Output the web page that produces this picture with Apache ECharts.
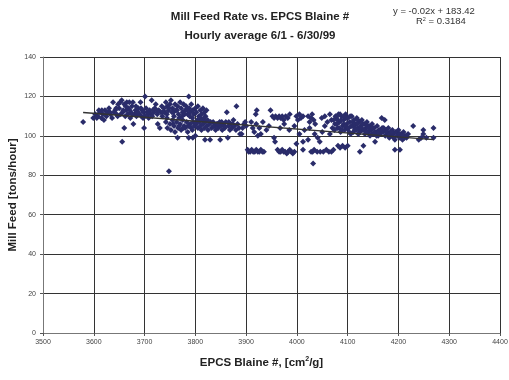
<!DOCTYPE html>
<html><head><meta charset="utf-8">
<script src="https://cdn.jsdelivr.net/npm/echarts@6/dist/echarts.min.js"></script>
<style>html,body{margin:0;padding:0;background:#fff}#c{width:509px;height:380px}</style>
</head><body><div id="c"></div>
<script>
const obs3500s = [[3579,107],[3599,109],[3603,111],[3606,109],[3608,110],[3610,113],[3612,112],[3615,109],[3618,111],[3620,108],[3622,113],[3625,110],[3628,112],[3630,114],[3633,111],[3636,109],[3638,117],[3640,112],[3642,113],[3645,111],[3647,110],[3648,116],[3650,114],[3652,117],[3655,118],[3656,97],[3657,112],[3660,104],[3660,116],[3662,110],[3664,113],[3665,117],[3667,111],[3668,114],[3670,117],[3672,109],[3673,112],[3675,115],[3677,117],[3678,106],[3680,111],[3682,113],[3684,110],[3685,112],[3688,114],[3690,111],[3692,117],[3694,110],[3695,113],[3698,112],[3699,104],[3616,113],[3624,111],[3632,112],[3644,114],[3653,111],[3658,113],[3663,115],[3671,113],[3676,111],[3683,115],[3687,112],[3693,114],[3697,109]];
const obs3700s = [[3700,110],[3701,120],[3703,114],[3705,112],[3708,109],[3710,113],[3712,111],[3714,118],[3715,110],[3718,112],[3720,114],[3722,116],[3725,111],[3726,106],[3728,113],[3730,104],[3732,112],[3734,115],[3735,110],[3738,114],[3740,112],[3742,117],[3745,115],[3747,113],[3750,116],[3752,118],[3755,114],[3757,112],[3760,116],[3762,113],[3765,115],[3767,111],[3770,117],[3772,114],[3775,112],[3777,116],[3780,113],[3782,115],[3785,111],[3787,120],[3788,114],[3790,112],[3792,116],[3795,113],[3797,111],[3742,107],[3745,104],[3748,82],[3750,106],[3752,103],[3755,108],[3758,105],[3760,102],[3763,107],[3765,99],[3766,104],[3770,106],[3772,103],[3775,108],[3778,105],[3780,104],[3783,107],[3785,102],[3787,99],[3790,106],[3792,104],[3795,99],[3796,107],[3798,105],[3706,111],[3716,113],[3724,113],[3736,112],[3744,111],[3748,114],[3754,112],[3758,110],[3764,113],[3768,109],[3774,110],[3779,111],[3784,113],[3789,110],[3794,109],[3744,109],[3756,106],[3768,105],[3776,104],[3786,105],[3794,103]];
const obs3800s = [[3800,114],[3802,112],[3805,115],[3807,110],[3810,113],[3812,111],[3815,114],[3818,112],[3820,110],[3822,113],[3800,100],[3802,106],[3805,104],[3808,107],[3810,105],[3812,103],[3815,106],[3818,104],[3819,98],[3820,107],[3823,105],[3825,103],[3828,106],[3829,98],[3832,104],[3835,107],[3838,105],[3840,103],[3842,106],[3845,104],[3848,107],[3849,98],[3850,105],[3853,103],[3855,106],[3858,104],[3860,107],[3862,112],[3864,99],[3865,105],[3868,103],[3870,106],[3872,104],[3875,108],[3877,105],[3880,103],[3881,115],[3883,106],[3886,104],[3888,101],[3891,101],[3893,104],[3896,106],[3898,107],[3804,108],[3809,109],[3814,108],[3817,109],[3824,108],[3830,107],[3836,105],[3844,106],[3852,107],[3857,105],[3866,107],[3874,106]];
const obs3900s = [[3903,93],[3905,92],[3908,92],[3911,93],[3914,92],[3917,92],[3920,93],[3923,92],[3926,92],[3929,93],[3932,92],[3935,92],[3962,93],[3965,92],[3968,92],[3971,93],[3974,92],[3977,92],[3980,91],[3983,92],[3986,93],[3989,92],[3992,91],[3995,92],[3919,111],[3921,113],[3948,113],[3952,110],[3955,109],[3958,110],[3962,109],[3965,110],[3968,109],[3971,110],[3974,108],[3978,110],[3982,109],[3986,111],[3900,105],[3910,107],[3913,104],[3916,102],[3920,106],[3923,100],[3926,104],[3929,101],[3933,107],[3940,103],[3945,105],[3955,99],[3957,97],[3967,104],[3975,106],[3985,103],[3995,105],[3999,96],[3999,110]];
const obs4000s = [[4002,108],[4005,111],[4008,109],[4012,110],[4022,110],[4025,107],[4028,109],[4030,111],[4033,108],[4036,106],[4049,109],[4055,110],[4060,107],[4065,111],[4068,108],[4012,93],[4028,92],[4031,92],[4032,86],[4034,93],[4040,92],[4046,92],[4052,92],[4058,93],[4063,92],[4068,92],[4072,93],[4005,101],[4012,97],[4015,103],[4022,98],[4025,104],[4035,101],[4041,99],[4045,97],[4050,102],[4055,105],[4065,101],[4070,104],[4075,106],[4078,109],[4080,104],[4082,111],[4084,107],[4086,102],[4088,110],[4090,105],[4092,108],[4094,103],[4096,111],[4098,106],[4081,95],[4085,94],[4090,95],[4095,94],[4076,110],[4080,108],[4085,111],[4092,106],[4097,109],[4072,108],[4074,103],[4079,106],[4083,104],[4087,108],[4089,103],[4093,110],[4095,105],[4099,104]];
const obs4100s = [[4100,109],[4102,104],[4104,107],[4106,101],[4108,110],[4110,105],[4112,108],[4114,103],[4116,106],[4118,109],[4120,104],[4122,107],[4124,102],[4126,105],[4128,108],[4130,103],[4132,106],[4134,101],[4136,104],[4138,107],[4140,102],[4142,105],[4144,100],[4146,103],[4148,106],[4150,101],[4152,104],[4154,97],[4156,102],[4158,105],[4160,100],[4162,103],[4164,101],[4167,109],[4168,104],[4170,102],[4173,108],[4174,100],[4176,103],[4178,101],[4180,104],[4182,99],[4184,102],[4186,100],[4188,103],[4190,101],[4193,98],[4195,102],[4198,100],[4100,95],[4124,92],[4131,95],[4193,93],[4105,110],[4110,107],[4115,104],[4120,108],[4125,103],[4135,106],[4145,104],[4103,102],[4107,105],[4111,102],[4113,106],[4117,103],[4119,106],[4121,101],[4127,104],[4129,106],[4133,103],[4137,102],[4139,105],[4141,104],[4147,101],[4149,104],[4153,102],[4157,100],[4161,102],[4165,103],[4171,104],[4177,102],[4183,101],[4187,102],[4191,99]];
const obs4200s = [[4200,103],[4203,99],[4205,101],[4208,98],[4210,102],[4213,100],[4216,99],[4219,101],[4229,105],[4240,98],[4245,99],[4249,103],[4249,101],[4255,99],[4269,104],[4269,99],[4203,93],[4202,101],[4207,100],[4212,99]];
// Linear trend fitted by the source: y = -0.02x + 183.42, R² = 0.3184
const trendSlope = -0.02;
const trendIntercept = 183.42;
const xTicks = [3500,3600,3700,3800,3900,4000,4100,4200,4300,4400];
const yTicks = [0,20,40,60,80,100,120,140];

const points = [].concat(obs3500s, obs3700s, obs3800s, obs3900s, obs4000s, obs4100s, obs4200s);
const xs = points.map(p => p[0]);
const xMin = Math.min.apply(null, xs), xMax = Math.max.apply(null, xs);
const trend = [[xMin, trendSlope * xMin + trendIntercept], [xMax, trendSlope * xMax + trendIntercept]];

const chart = echarts.init(document.getElementById('c'), null, {renderer: 'canvas'});
const FONT = 'Liberation Sans, Arial, sans-serif';
chart.setOption({
  animation: false,
  backgroundColor: '#fff',
  title: {
    text: 'Mill Feed Rate vs. EPCS Blaine #\nHourly average 6/1 - 6/30/99',
    left: 255, top: 2, textAlign: 'center',
    textStyle: {fontFamily: FONT, fontSize: 11.5, fontWeight: 'bold', color: '#222', lineHeight: 19}
  },
  graphic: [
    {type: 'text', left: 393, top: 6, style: {text: 'y = -0.02x + 183.42', font: '9.5px ' + FONT, fill: '#333'}},
    {type: 'text', left: 416, top: 16, style: {text: '{a|R}{s|2}{a| = 0.3184}', rich: {a: {fontFamily: FONT, fontSize: 9.5, fill: '#333'}, s: {fontFamily: FONT, fontSize: 5.5, fill: '#333', verticalAlign: 'top', padding: [0,0,4,0]}}}}
  ],
  grid: {left: 43, right: 9, top: 57, bottom: 47, containLabel: false, outerBoundsMode: 'none'},
  xAxis: {
    type: 'value', min: xTicks[0], max: xTicks[xTicks.length-1], interval: 100,
    name: '{t|EPCS Blaine #, [cm}{s|2}{t|/g]}', nameLocation: 'middle', nameGap: 23, nameMoveOverlap: false,
    nameTextStyle: {padding: [0, 20, 0, 0], rich: {t: {fontFamily: FONT, fontSize: 11.5, fontWeight: 'bold', color: '#222'}, s: {fontFamily: FONT, fontSize: 7, fontWeight: 'bold', color: '#222', verticalAlign: 'top', padding: [0,0,6,0]}}},
    axisLine: {lineStyle: {color: '#777', width: 1}},
    axisTick: {show: true, length: 3, lineStyle: {color: '#555'}},
    axisLabel: {fontFamily: FONT, fontSize: 7, color: '#444', margin: 6, formatter: v => String(v)},
    splitLine: {show: true, lineStyle: {color: '#333', width: 1}}
  },
  yAxis: {
    type: 'value', min: yTicks[0], max: yTicks[yTicks.length-1], interval: 20,
    name: 'Mill Feed [tons/hour]', nameLocation: 'middle', nameGap: 24, nameMoveOverlap: false,
    nameTextStyle: {fontFamily: FONT, fontSize: 11.5, fontWeight: 'bold', color: '#222'},
    axisLine: {show: true, lineStyle: {color: '#777', width: 1}},
    axisTick: {show: true, length: 3, lineStyle: {color: '#555'}},
    axisLabel: {fontFamily: FONT, fontSize: 7, color: '#444', margin: 7, formatter: v => String(v)},
    splitLine: {show: true, lineStyle: {color: '#333', width: 1}}
  },
  series: [
    {type: 'scatter', data: points, symbol: 'diamond', symbolSize: 6,
     itemStyle: {color: '#2a2c6a', opacity: 1}, silent: true, z: 3},
    {type: 'line', data: trend, symbol: 'none', silent: true, z: 4,
     lineStyle: {color: '#333', width: 1.3}}
  ]
});
</script></body></html>
